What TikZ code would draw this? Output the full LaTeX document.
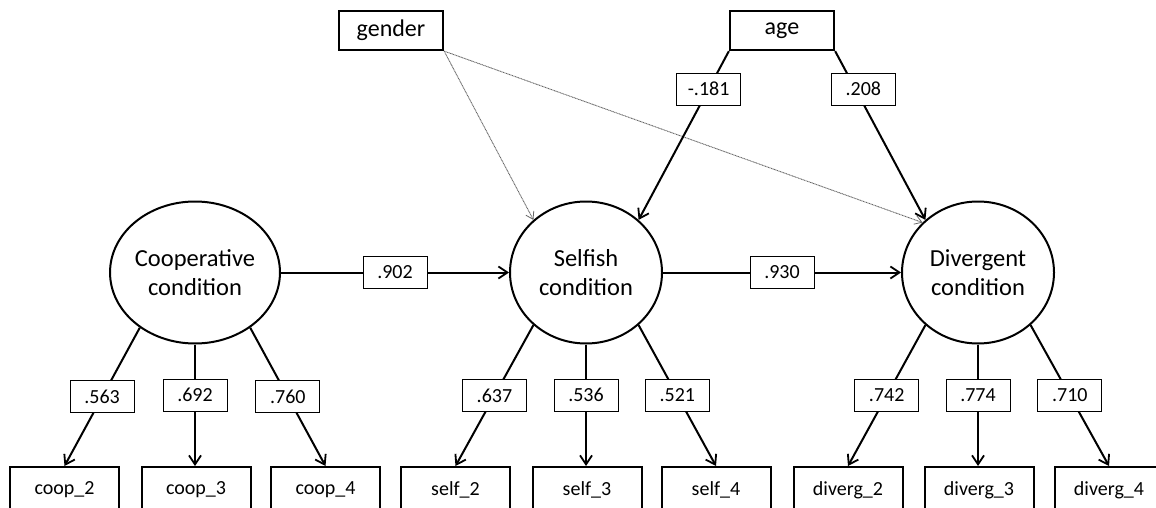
\documentclass[tikz,border=0pt]{standalone}
\usepackage{fontspec}
\setmainfont{Carlito}
\usetikzlibrary{shapes.geometric,arrows.meta}
\begin{document}
\begin{tikzpicture}[x=1pt,y=-1pt,
  obsbox/.style={draw,line width=2.3pt,minimum width=104pt,minimum height=39pt,inner sep=0pt,font=\fontsize{24}{28}\selectfont},
  indbox/.style={draw,line width=2pt,minimum width=109pt,minimum height=46pt,inner sep=0pt,font=\fontsize{20}{24}\selectfont},
  latent/.style={draw,ellipse,line width=2pt,minimum width=152pt,minimum height=142pt,inner sep=0pt,align=center,font=\fontsize{24.5}{28.5}\selectfont},
  lbl/.style={draw,fill=white,line width=0.9pt,minimum width=64pt,minimum height=32pt,inner sep=0pt,font=\fontsize{20}{24}\selectfont},
  path/.style={line width=2pt,-{Straight Barb[length=9pt,width=12pt,line width=1.8pt]}},
  gpath/.style={draw=black!60,line width=0.9pt,dash pattern=on 1pt off 0.6pt,-{Straight Barb[length=7pt,width=9pt,line width=0.8pt]}}
]
\useasboundingbox (0,0) rectangle (1156,508);
\clip (0,0) rectangle (1156,508);

% observed covariates
\node[obsbox] (gender) at (391,30.5) {gender};
\node[obsbox] (age) at (782,30.5) {age};

% latent variables
\node[latent] (coop) at (195,272.5) {Cooperative\\condition};
\node[latent] (self) at (586,272.5) {Selfish\\condition};
\node[latent] (div) at (978,272.5) {Divergent\\condition};

% indicators
\node[indbox] (coop2) at (64.5,490) {coop\_2};
\node[indbox] (coop3) at (196,490) {coop\_3};
\node[indbox] (coop4) at (325.5,490) {coop\_4};
\node[indbox] (self2) at (455.5,490) {self\_2};
\node[indbox] (self3) at (587,490) {self\_3};
\node[indbox] (self4) at (716,490) {self\_4};
\node[indbox] (div2) at (848,490) {diverg\_2};
\node[indbox] (div3) at (979,490) {diverg\_3};
\node[indbox] (div4) at (1109,490) {diverg\_4};

% gender paths (dotted, gray)
\draw[gpath] (gender.south east) -- (self.135);
\draw[gpath] (gender.south east) -- (div.138);

% age paths
\draw[path] (age.south west) -- node[lbl,pos=0.224] (l181) {-.181} (self.45);
\draw[path] (age.south east) -- node[lbl,pos=0.224,xshift=8pt] (l208) {.208} (div.135);

% structural paths
\draw[path] (coop.east) -- node[lbl] (l902) {.902} (self.west);
\draw[path] (self.east) -- node[lbl] (l930) {.930} (div.west);

% loadings
\draw[path] (coop.225) -- node[lbl] (l563) {.563} (coop2.north);
\draw[path] (coop.south) -- node[lbl,pos=0.417] (l692) {.692} (coop.south |- coop3.north);
\draw[path] (coop.315) -- node[lbl] (l760) {.760} (coop4.north);

\draw[path] (self.225) -- node[lbl] (l637) {.637} (self2.north);
\draw[path] (self.south) -- node[lbl,pos=0.417] (l536) {.536} (self.south |- self3.north);
\draw[path] (self.315) -- node[lbl] (l521) {.521} (self4.north);

\draw[path] (div.225) -- node[lbl] (l742) {.742} (div2.north);
\draw[path] (div.south) -- node[lbl,pos=0.417] (l774) {.774} (div.south |- div3.north);
\draw[path] (div.315) -- node[lbl] (l710) {.710} (div4.north);
\end{tikzpicture}
\end{document}
